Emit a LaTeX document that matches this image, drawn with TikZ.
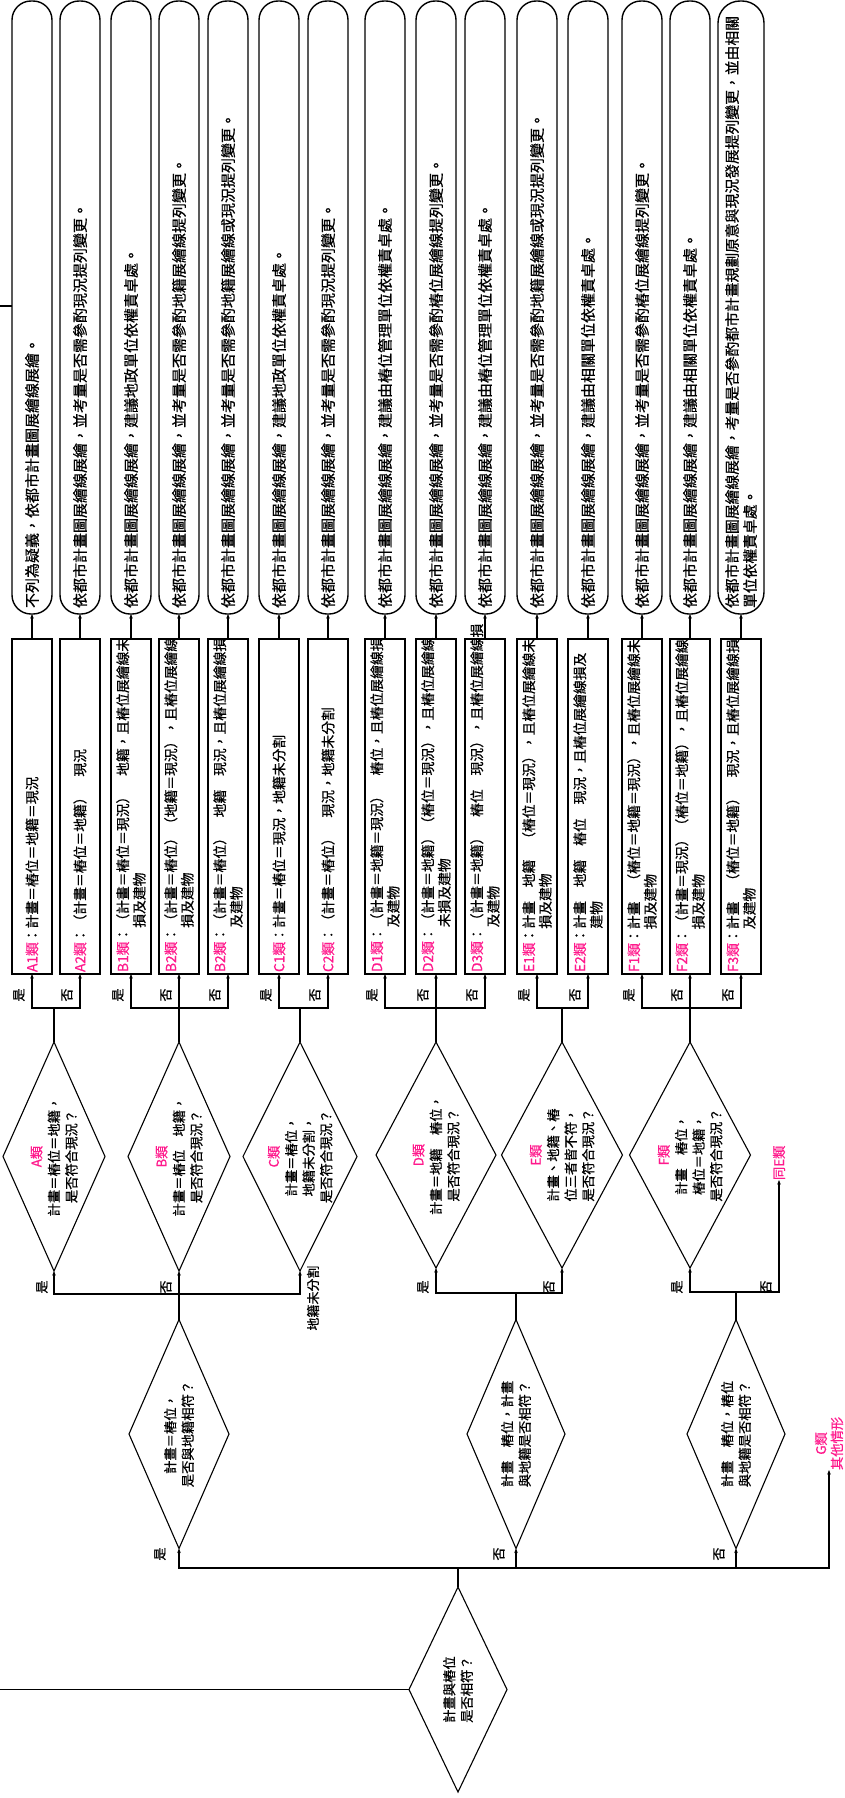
\documentclass[tikz,border=0pt]{standalone}
\usepackage{fontspec}
\setmainfont{Noto Sans CJK TC}[FakeBold=0.6]
\usetikzlibrary{arrows.meta,shapes.geometric,calc}
\definecolor{pk}{RGB}{255,25,140}
\begin{document}
\begin{tikzpicture}[x=1pt,y=-1pt,
  every node/.style={inner sep=0pt,outer sep=0pt},
  ln/.style={line width=1.1pt},
  stem/.style={line width=1.8pt},
  arr/.style={line width=1.1pt,-{Stealth[length=4.5pt,width=3.5pt]}},
  resbox/.style={draw,line width=1.4pt,rotate=90,rounded corners=19pt,minimum width=613pt,minimum height=40pt,text width=601pt,inner xsep=6pt,align=left,font=\fontsize{15}{18}\selectfont},
  catbox/.style={draw,line width=1.4pt,rotate=90,minimum width=335pt,minimum height=40pt,text width=331pt,inner xsep=2pt,align=left,font=\fontsize{13.8}{16.5}\selectfont},
  dia/.style={draw,diamond,line width=1.1pt,inner sep=0pt},
  dtext/.style={rotate=90,align=center,font=\fontsize{13.3}{17.5}\selectfont},
  lbl/.style={rotate=90,font=\fontsize{13}{15}\selectfont},
]
\useasboundingbox (0,0) rectangle (845,1798);

% result boxes
\node[resbox] (o1) at (32,307.5) {不列為疑義，依都市計畫圖展繪線展繪。};
\node[resbox] (o2) at (80,307.5) {依都市計畫圖展繪線展繪，並考量是否需參酌現況提列變更。};
\node[resbox] (o3) at (131,307.5) {依都市計畫圖展繪線展繪，建議地政單位依權責卓處。};
\node[resbox] (o4) at (179,307.5) {依都市計畫圖展繪線展繪，並考量是否需參酌地籍展繪線提列變更。};
\node[resbox] (o5) at (228,307.5) {依都市計畫圖展繪線展繪，並考量是否需參酌地籍展繪線或現況提列變更。};
\node[resbox] (o6) at (279,307.5) {依都市計畫圖展繪線展繪，建議地政單位依權責卓處。};
\node[resbox] (o7) at (328,307.5) {依都市計畫圖展繪線展繪，並考量是否需參酌現況提列變更。};
\node[resbox] (o8) at (385,307.5) {依都市計畫圖展繪線展繪，建議由樁位管理單位依權責卓處。};
\node[resbox] (o9) at (436,307.5) {依都市計畫圖展繪線展繪，並考量是否需參酌樁位展繪線提列變更。};
\node[resbox] (o10) at (485,307.5) {依都市計畫圖展繪線展繪，建議由樁位管理單位依權責卓處。};
\node[resbox] (o11) at (537,307.5) {依都市計畫圖展繪線展繪，並考量是否需參酌地籍展繪線或現況提列變更。};
\node[resbox] (o12) at (588,307.5) {依都市計畫圖展繪線展繪，建議由相關單位依權責卓處。};
\node[resbox] (o13) at (642,307.5) {依都市計畫圖展繪線展繪，並考量是否需參酌樁位展繪線提列變更。};
\node[resbox] (o14) at (690,307.5) {依都市計畫圖展繪線展繪，建議由相關單位依權責卓處。};
\node[resbox,minimum height=46pt,rounded corners=22pt,font=\fontsize{14.8}{18}\selectfont] (o15) at (741,307.5) {依都市計畫圖展繪線展繪，考量是否參酌都市計畫規劃原意與現況發展提列變更，並由相關\\單位依權責卓處。};

% category boxes
\node[catbox] (r1) at (32,806.5) {{\color{pk}A1類}：計畫＝樁位＝地籍＝現況};
\node[catbox] (r2) at (80,806.5) {{\color{pk}A2類}：（計畫＝樁位＝地籍）　現況};
\node[catbox] (r3) at (131,806.5) {{\color{pk}B1類}：（計畫＝樁位＝現況）　地籍，且樁位展繪線未\\\phantom{B1類：}損及建物};
\node[catbox] (r4) at (179,806.5) {{\color{pk}B2類}：（計畫＝樁位）（地籍＝現況），且樁位展繪線\\\phantom{B2類：}損及建物};
\node[catbox] (r5) at (228,806.5) {{\color{pk}B2類}：（計畫＝樁位）　地籍　現況，且樁位展繪線損\\\phantom{B2類：}及建物};
\node[catbox] (r6) at (279,806.5) {{\color{pk}C1類}：計畫＝樁位＝現況，地籍未分割};
\node[catbox] (r7) at (328,806.5) {{\color{pk}C2類}：（計畫＝樁位）　現況，地籍未分割};
\node[catbox] (r8) at (385,806.5) {{\color{pk}D1類}：（計畫＝地籍＝現況）　樁位，且樁位展繪線損\\\phantom{D1類：}及建物};
\node[catbox] (r9) at (436,806.5) {{\color{pk}D2類}：（計畫＝地籍）（樁位＝現況），且樁位展繪線\\\phantom{D2類：}未損及建物};
\node[catbox] (r10) at (485,806.5) {{\color{pk}D3類}：（計畫＝地籍）　樁位　現況），且樁位展繪線損\\\phantom{D3類：}及建物};
\node[catbox] (r11) at (537,806.5) {{\color{pk}E1類}：計畫　地籍　（樁位＝現況），且樁位展繪線未\\\phantom{E1類：}損及建物};
\node[catbox] (r12) at (588,806.5) {{\color{pk}E2類}：計畫　地籍　樁位　現況，且樁位展繪線損及\\\phantom{E2類：}建物};
\node[catbox] (r13) at (642,806.5) {{\color{pk}F1類}：計畫　（樁位＝地籍＝現況），且樁位展繪線未\\\phantom{F1類：}損及建物};
\node[catbox] (r14) at (690,806.5) {{\color{pk}F2類}：（計畫＝現況）（樁位＝地籍），且樁位展繪線\\\phantom{F2類：}損及建物};
\node[catbox] (r15) at (741,806.5) {{\color{pk}F3類}：計畫　（樁位＝地籍）　現況，且樁位展繪線損\\\phantom{F3類：}及建物};

\foreach \i in {1,...,15} \draw[arr] (r\i.east) -- (o\i.west);

% class diamonds
\node[dia,minimum width=102pt,minimum height=229pt] (dA) at (54,1156.5) {};
\node[dia,minimum width=102pt,minimum height=229pt] (dB) at (179,1156.5) {};
\node[dia,minimum width=114pt,minimum height=229pt] (dC) at (300,1156.5) {};
\node[dia,minimum width=120pt,minimum height=226pt] (dD) at (436,1155) {};
\node[dia,minimum width=121pt,minimum height=226pt] (dE) at (562,1155) {};
\node[dia,minimum width=121pt,minimum height=226pt] (dF) at (690,1155) {};
\node[dtext] at (dA) {{\color{pk}A類}\\計畫＝樁位＝地籍，\\是否符合現況？};
\node[dtext] at (dB) {{\color{pk}B類}\\計畫＝樁位　地籍，\\是否符合現況？};
\node[dtext] at (dC) {{\color{pk}C類}\\計畫＝樁位，\\地籍未分割，\\是否符合現況？};
\node[dtext] at (dD) {{\color{pk}D類}\\計畫＝地籍　樁位，\\是否符合現況？};
\node[dtext] at (dE) {{\color{pk}E類}\\計畫、地籍、樁\\位三者皆不符，\\是否符合現況？};
\node[dtext] at (dF) {{\color{pk}F類}\\計畫　樁位，\\樁位＝地籍，\\是否符合現況？};

% decision diamonds
\node[dia,minimum width=100pt,minimum height=229pt] (d1) at (179,1434) {};
\node[dia,minimum width=98pt,minimum height=229pt] (d2) at (516,1434) {};
\node[dia,minimum width=98pt,minimum height=229pt] (d3) at (736,1434) {};
\node[dia,minimum width=98pt,minimum height=205pt] (root) at (458,1689.5) {};
\node[dtext] at (d1) {計畫＝樁位，\\是否與地籍相符？};
\node[dtext] at (d2) {計畫　樁位，計畫\\與地籍是否相符？};
\node[dtext] at (d3) {計畫　樁位，樁位\\與地籍是否相符？};
\node[dtext] at (root) {計畫與樁位\\是否相符？};

% end labels
\node[dtext,text=pk,anchor=west,font=\fontsize{13.3}{16}\selectfont] (g) at (829,1470) {G類\\其他情形};
\node[dtext,text=pk,anchor=west] (sE) at (779,1180) {同E類};

% junctions
\coordinate (jA) at (54,1008);
\coordinate (jB) at (179,1008);
\coordinate (jC) at (300,1008);
\coordinate (jD) at (436,1008);
\coordinate (jE) at (562,1008);
\coordinate (jF) at (690,1008);
\coordinate (j1) at (179,1294);
\coordinate (j2) at (516,1293);
\coordinate (j3) at (736,1292);
\coordinate (j0) at (458,1568);

\draw[stem] (dA.north) -- (jA);
\draw[stem] (dB.north) -- (jB);
\draw[stem] (dC.north) -- (jC);
\draw[stem] (dD.north) -- (jD);
\draw[stem] (dE.north) -- (jE);
\draw[stem] (dF.north) -- (jF);
\draw[stem] (d1.north) -- (j1);
\draw[stem] (d2.north) -- (j2);
\draw[stem] (d3.north) -- (j3);
\draw[stem] (root.north) -- (j0);

\draw[arr] (jA) -| (r1.west);
\draw[arr] (jA) -| (r2.west);
\draw[arr] (jB) -| (r3.west);
\draw[arr] (jB) -- (r4.west);
\draw[arr] (jB) -| (r5.west);
\draw[arr] (jC) -| (r6.west);
\draw[arr] (jC) -| (r7.west);
\draw[arr] (jD) -| (r8.west);
\draw[arr] (jD) -- (r9.west);
\draw[arr] (jD) -| (r10.west);
\draw[arr] (jE) -| (r11.west);
\draw[arr] (jE) -| (r12.west);
\draw[arr] (jF) -| (r13.west);
\draw[arr] (jF) -- (r14.west);
\draw[arr] (jF) -| (r15.west);

\draw[arr] (j1) -| (dA.south);
\draw[arr] (j1) -- (dB.south);
\draw[arr] (j1) -| (dC.south);
\draw[arr] (j2) -| (dD.south);
\draw[arr] (j2) -| (dE.south);
\draw[arr] (j3) -| (dF.south);
\draw[arr] (j3) -| (sE.west);

\draw[arr] (j0) -| (d1.south);
\draw[arr] (j0) -| (d2.south);
\draw[arr] (j0) -| (d3.south);
\draw[arr] (j0) -| (g.west);

% free ends
\coordinate (e1) at (0,1689.5);
\draw[ln] (root.west) -- (e1);
\coordinate (e2) at (0,306);
\draw[ln] (e2) -- (e2 -| o1.north);

% branch labels
\node[lbl] at (19,995) {是};
\node[lbl] at (67,995) {否};
\node[lbl] at (118,995) {是};
\node[lbl] at (166,995) {否};
\node[lbl] at (215,995) {否};
\node[lbl] at (266,995) {是};
\node[lbl] at (315,995) {否};
\node[lbl] at (372,995) {是};
\node[lbl] at (423,995) {否};
\node[lbl] at (472,995) {否};
\node[lbl] at (524,995) {是};
\node[lbl] at (575,995) {否};
\node[lbl] at (629,995) {是};
\node[lbl] at (677,995) {否};
\node[lbl] at (728,995) {否};

\node[lbl] at (42,1287) {是};
\node[lbl] at (166,1287) {否};
\node[lbl] at (313,1298) {地籍未分割};
\node[lbl] at (423,1287) {是};
\node[lbl] at (549,1287) {否};
\node[lbl] at (677,1287) {是};
\node[lbl] at (766,1287) {否};

\node[lbl] at (160,1554) {是};
\node[lbl] at (499,1554) {否};
\node[lbl] at (719,1554) {否};
\end{tikzpicture}
\end{document}
